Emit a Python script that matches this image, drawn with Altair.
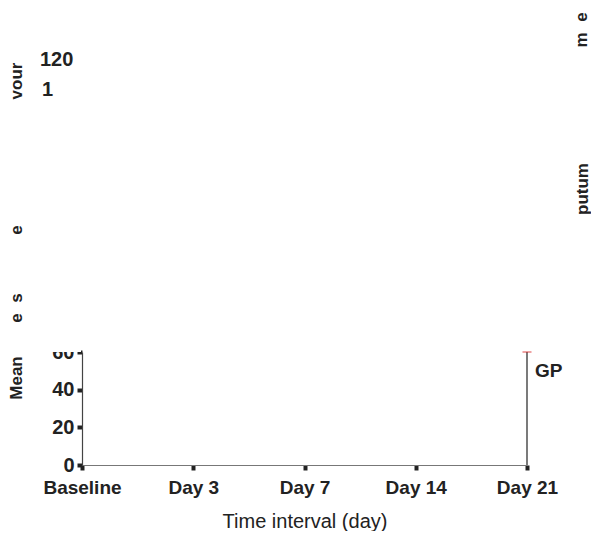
import altair as alt
import pandas as pd

# ---- data ----
categories = ["Baseline", "Day 3", "Day 7", "Day 14", "Day 21"]
y_ticks = [0, 20, 40, 60]
bar_category = ["Day 21"]
bar_low = [0]
bar_high = [60]
label_text = ["GP"]
label_value = [50]
left_fragments = ["vour", "e", "s", "e", "Mean"]
right_fragments = ["e", "m", "putum"]
top_numbers = ["120", "1"]

FONT = "Liberation Sans"

base_df = pd.DataFrame({"cat": categories, "v": [0] * len(categories)})
bar_df = pd.DataFrame({"cat": bar_category, "v": bar_low, "hi": bar_high})
lab_df = pd.DataFrame({"cat": bar_category, "v": label_value, "t": label_text})

x_scale = alt.Scale(domain=categories, type="point", padding=0)
y_scale = alt.Scale(domain=[0, 60], nice=False, zero=True)

x_axis = alt.Axis(labelAngle=0, labelFontSize=19, labelFontWeight="bold",
                  labelFont=FONT, labelColor="#222", labelPadding=8,
                  tickSize=5, tickWidth=4, tickColor="#222", grid=False,
                  domainColor="#777", domainWidth=1.2, labelOverlap=False,
                  titleFont=FONT, titleFontSize=20, titleFontWeight="normal",
                  titleColor="#222", titlePadding=14)
y_axis = alt.Axis(values=y_ticks, labelFontSize=20, labelFontWeight="bold",
                  labelFont=FONT, labelColor="#222", labelPadding=3,
                  labelOverlap=False, labelBound=False, labelFlush=False,
                  tickSize=5, tickWidth=4, tickColor="#222",
                  domainColor="#444", domainWidth=1.2, grid=False, zindex=0)


def X():
    return alt.X("cat:N", sort=categories, title="Time interval (day)", scale=x_scale, axis=x_axis)


def Y():
    return alt.Y("v:Q", scale=y_scale, title=None, axis=y_axis)


axis_layer = alt.Chart(base_df).mark_point(opacity=0).encode(x=X(), y=Y())

rule = alt.Chart(bar_df).mark_rule(color="#222", strokeWidth=1.2).encode(
    x=X(), y=Y(), y2="hi:Q")
cap = alt.Chart(bar_df).mark_tick(color="#d62020", orient="horizontal", size=9,
                                  thickness=1.2).encode(
    x=X(), y=alt.Y("hi:Q", scale=y_scale, title=None, axis=y_axis))
gp = alt.Chart(lab_df).mark_text(align="left", baseline="middle", dx=8, font=FONT,
                                 fontSize=19, fontWeight="bold", color="#222").encode(
    x=X(), y=Y(), text="t:N")

# white mask hiding top half of the cut-off "60" label
mask = alt.Chart(base_df.head(1)).mark_rect(color="white").encode(
    x=alt.value(-50), x2=alt.value(-1), y=alt.value(-20), y2=alt.value(0))

layers = [axis_layer, rule, cap, gp, mask]

left_pos = [(-65, -271), (-65, -122), (-65, -54), (-65, -34), (-65, 26)]
for txt, (px, py) in zip(left_fragments, left_pos):
    layers.append(alt.Chart(pd.DataFrame({"t": [txt]})).mark_text(
        angle=270, align="center", baseline="middle", font=FONT, fontSize=17,
        fontWeight="bold", color="#222").encode(
        x=alt.value(px), y=alt.value(py), text="t:N"))

right_pos = [(500, -335), (500, -312), (501, -163)]
for txt, (px, py) in zip(right_fragments, right_pos):
    layers.append(alt.Chart(pd.DataFrame({"t": [txt]})).mark_text(
        angle=270, align="center", baseline="middle", font=FONT, fontSize=17,
        fontWeight="bold", color="#222").encode(
        x=alt.value(px), y=alt.value(py), text="t:N"))

top_pos = [(-42, -292), (-40, -262)]
for txt, (px, py) in zip(top_numbers, top_pos):
    layers.append(alt.Chart(pd.DataFrame({"t": [txt]})).mark_text(
        align="left", baseline="middle", font=FONT, fontSize=20,
        fontWeight="bold", color="#222").encode(
        x=alt.value(px), y=alt.value(py), text="t:N"))

chart = alt.layer(*layers).properties(
    width=445, height=113,
    background="white",
    autosize=alt.AutoSizeParams(type="none"),
    padding={"left": 74, "top": 344, "right": 64, "bottom": 66},
).configure_view(strokeWidth=0).configure_axis(grid=False)

chart.save("out.html", embed_options={"renderer": "svg", "actions": False})
